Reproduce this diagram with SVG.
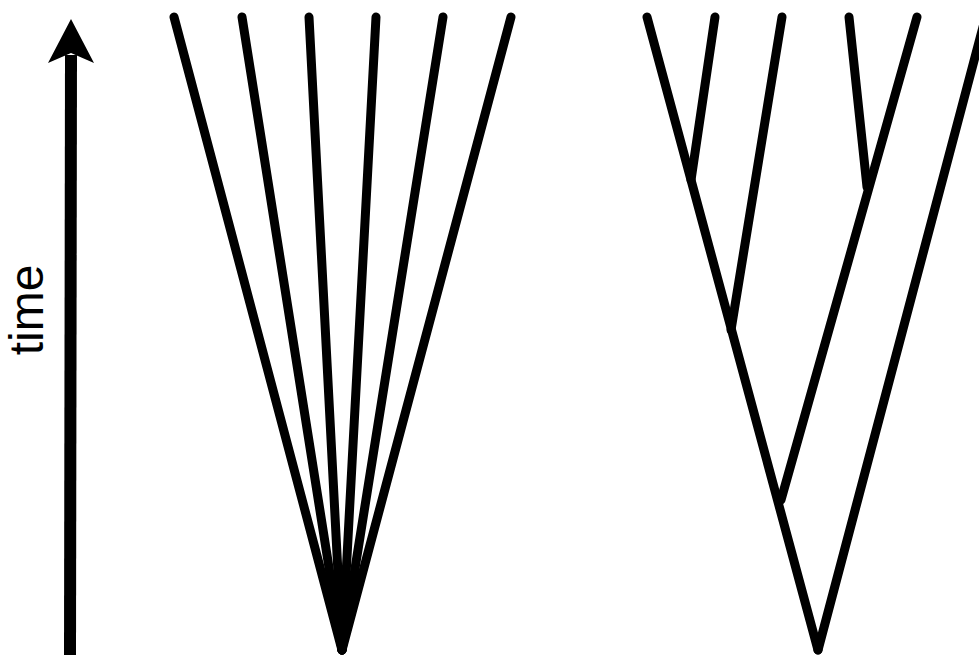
<svg xmlns="http://www.w3.org/2000/svg" width="979" height="655" viewBox="0 0 979 655">
<style>
.br{stroke:#000;stroke-width:9;stroke-linecap:round;fill:none}
.lbl{font-family:"Liberation Sans",Arial,sans-serif;font-size:48px;fill:#000}
</style>
<rect width="979" height="655" fill="#fff"/>
<g id="time-axis">
<line x1="70" y1="655" x2="71" y2="55" stroke="#000" stroke-width="12"/>
<polygon points="71,19 94,63 71,53 48,63" fill="#000"/>
<text class="lbl" transform="translate(43,310) rotate(-90)" text-anchor="middle">time</text>
</g>
<g id="star-tree">
<line class="br" x1="342" y1="650" x2="174" y2="17"/>
<line class="br" x1="342" y1="650" x2="242" y2="17"/>
<line class="br" x1="342" y1="650" x2="309" y2="17"/>
<line class="br" x1="342" y1="650" x2="376" y2="17"/>
<line class="br" x1="342" y1="650" x2="443" y2="17"/>
<line class="br" x1="342" y1="650" x2="511" y2="17"/>
<polygon points="333,615 351,615 342,652" fill="#000"/>
</g>
<g id="branching-tree">
<line class="br" x1="818" y1="650" x2="647" y2="17"/>
<line class="br" x1="818" y1="650" x2="988" y2="8"/>
<line class="br" x1="691" y1="180" x2="715" y2="17"/>
<line class="br" x1="731" y1="330" x2="782" y2="17"/>
<line class="br" x1="781" y1="500" x2="917" y2="17"/>
<line class="br" x1="867" y1="187" x2="849" y2="17"/>
</g>
</svg>
